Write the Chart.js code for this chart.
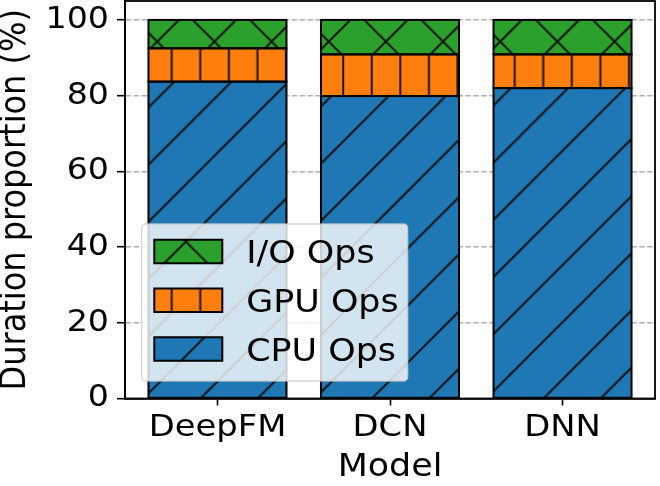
<!DOCTYPE html>
<html>
<head>
<meta charset="utf-8">
<script src="https://cdn.jsdelivr.net/npm/chart.js@4.4.1/dist/chart.umd.min.js"></script>
<style>
html, body { margin:0; padding:0; background:#ffffff; overflow:hidden; }
canvas { display:block; }
</style>
</head>
<body>
<canvas id="chart" width="660" height="486"></canvas>
<script>
// ---------------- data ----------------
const categories = ['DeepFM', 'DCN', 'DNN'];
const cpuOps = [83.7, 79.9, 82.0];
const gpuOps = [8.8, 11.0, 8.9];
const ioOps  = [7.5, 9.1, 9.1];
const yTickValues = [0, 20, 40, 60, 80, 100];
const seriesNames = ['CPU Ops', 'GPU Ops', 'I/O Ops'];
const xLabel = 'Model';
const yLabel = 'Duration proportion (%)';

// ---------------- styles ----------------
const seriesColors = ['#1f77b4', '#ff7f0e', '#2ca02c'];
const seriesHatches = ['/', '|', 'x'];
const FONT = "'DejaVu Sans', sans-serif";
const TEXT_STRETCH = 1.09;

// horizontally widen canvas text (reference glyphs are wider than DejaVu)
const _origFillText = CanvasRenderingContext2D.prototype.fillText;
CanvasRenderingContext2D.prototype.fillText = function (t, x, y, maxW) {
  const m = this.getTransform();
  this.save();
  this.translate(x, y);
  if (Math.abs(m.b) > Math.abs(m.a)) this.scale(1, TEXT_STRETCH); else this.scale(TEXT_STRETCH, 1);
  if (maxW === undefined) _origFillText.call(this, t, 0, 0);
  else _origFillText.call(this, t, 0, 0, maxW / TEXT_STRETCH);
  this.restore();
};

const HP = 57.16; // hatch period in px
function makePattern(ctx, color, hatch) {
  const S = 57;
  const c = document.createElement('canvas');
  c.width = S; c.height = S;
  const g = c.getContext('2d');
  g.fillStyle = color;
  g.fillRect(0, 0, S, S);
  g.save();
  g.scale(S / HP, S / HP);
  g.strokeStyle = 'rgba(15,15,15,0.95)';
  g.lineWidth = 2;
  g.beginPath();
  for (let k = -2; k <= 2; k++) {
    if (hatch === '/' || hatch === 'x') {
      const c0 = 27.3 + k * HP;
      g.moveTo(-HP, c0 + HP); g.lineTo(2 * HP, c0 - 2 * HP);
    }
    if (hatch === 'x') {
      const d = 1.4 + k * HP;
      g.moveTo(-HP, -HP - d); g.lineTo(2 * HP, 2 * HP - d);
    }
    if (hatch === '|') {
      const e = 0.2 + k * HP / 2;
      g.moveTo(e, -HP); g.lineTo(e, 2 * HP);
    }
  }
  g.stroke();
  g.restore();
  const pat = ctx.createPattern(c, 'repeat');
  pat.setTransform(new DOMMatrix().scale(HP / S, HP / S));
  return pat;
}

const canvas = document.getElementById('chart');
const ctx = canvas.getContext('2d');

const seriesValues = [cpuOps, gpuOps, ioOps];
const datasets = seriesValues.map((arr, i) => ({
  label: seriesNames[i],
  data: arr.map((v, j) => ({ x: j, y: v })),
  backgroundColor: makePattern(ctx, seriesColors[i], seriesHatches[i]),
  borderWidth: 0,
  barPercentage: 0.8,
  categoryPercentage: 1.0,
  stack: 'all'
}));

// bar outlines (centered edges) + axes frame
const edgePlugin = {
  id: 'barEdges',
  afterDatasetsDraw(chart) {
    const c = chart.ctx;
    c.save();
    c.lineWidth = 2;
    c.strokeStyle = '#000';
    chart.data.datasets.forEach((d, i) => {
      chart.getDatasetMeta(i).data.forEach(el => {
        const p = el.getProps(['x', 'y', 'base', 'width'], true);
        c.strokeRect(p.x - p.width / 2, Math.min(p.y, p.base), p.width, Math.abs(p.base - p.y));
      });
    });
    const ca = chart.chartArea;
    c.lineWidth = 1.8;
    c.strokeRect(ca.left, ca.top, ca.right - ca.left, ca.bottom - ca.top);
    c.restore();
  }
};

// legend inside plot, lower left
const legendPlugin = {
  id: 'insideLegend',
  afterDraw(chart) {
    const c = chart.ctx, ca = chart.chartArea;
    const x0 = ca.left + 16.7, y1 = ca.bottom - 17.5, w = 266, h = 157, y0 = y1 - h;
    c.save();
    c.beginPath();
    c.roundRect(x0, y0, w, h, 4);
    c.fillStyle = 'rgba(255,255,255,0.8)';
    c.fill();
    c.lineWidth = 1.3;
    c.strokeStyle = 'rgba(204,204,204,0.8)';
    c.stroke();
    const fs = 32;
    c.font = fs + 'px ' + FONT;
    c.textAlign = 'left';
    c.textBaseline = 'alphabetic';
    chart.data.datasets.forEach((d, i) => {
      const cy = y1 - 32 - i * 48.75;
      c.fillStyle = d.backgroundColor;
      c.fillRect(x0 + 12.6, cy - 11.75, 68, 23.5);
      c.lineWidth = 2;
      c.strokeStyle = '#000';
      c.strokeRect(x0 + 12.6, cy - 11.75, 68, 23.5);
      c.fillStyle = '#000';
      c.fillText(d.label, x0 + 104.5, cy + 0.3645 * fs);
    });
    c.restore();
  }
};

new Chart(ctx, {
  type: 'bar',
  data: { datasets },
  plugins: [edgePlugin, legendPlugin],
  options: {
    responsive: false,
    animation: false,
    devicePixelRatio: 1,
    layout: { padding: { top: 1, right: 5, left: 0, bottom: 0 } },
    plugins: { legend: { display: false }, tooltip: { enabled: false } },
    scales: {
      x: {
        type: 'linear',
        min: -0.536,
        max: 2.536,
        stacked: true,
        offset: false,
        afterBuildTicks: s => { s.ticks = categories.map((c, i) => ({ value: i })); },
        afterFit: s => { s.height = 87.5; s.paddingLeft = 0; s.paddingRight = 0; },
        ticks: {
          callback: v => categories[v],
          font: { family: FONT, size: 31, lineHeight: 1 },
          color: '#000',
          padding: 7,
          maxRotation: 0,
          minRotation: 0,
          autoSkip: false
        },
        grid: { display: true, offset: false, drawOnChartArea: false, drawTicks: true, tickLength: 7, tickWidth: 1.6, tickColor: '#000' },
        border: { display: true, color: '#000', width: 1.8 },
        title: { display: true, text: xLabel, color: '#000', font: { family: FONT, size: 32, lineHeight: 1 }, padding: { top: 0, bottom: 2 } }
      },
      y: {
        stacked: true,
        min: 0,
        max: 105,
        afterBuildTicks: s => { s.ticks = yTickValues.map(v => ({ value: v })); },
        afterFit: s => { s.width = 125; s.paddingTop = 0; s.paddingBottom = 0; },
        ticks: {
          callback: v => String(v),
          font: { family: FONT, size: 30.5, lineHeight: 1 },
          color: '#000',
          padding: 8
        },
        grid: { display: true, color: '#b0b0b0', lineWidth: 1.4, drawTicks: true, tickLength: 8, tickWidth: 1.6, tickColor: '#000' },
        border: { display: true, color: '#000', width: 1.8, dash: [5.5, 2.4] },
        title: { display: true, text: yLabel, color: '#000', font: { family: FONT, size: 32, lineHeight: 1 }, padding: { top: 0, bottom: 0 } }
      }
    }
  }
});
</script>
</body>
</html>
